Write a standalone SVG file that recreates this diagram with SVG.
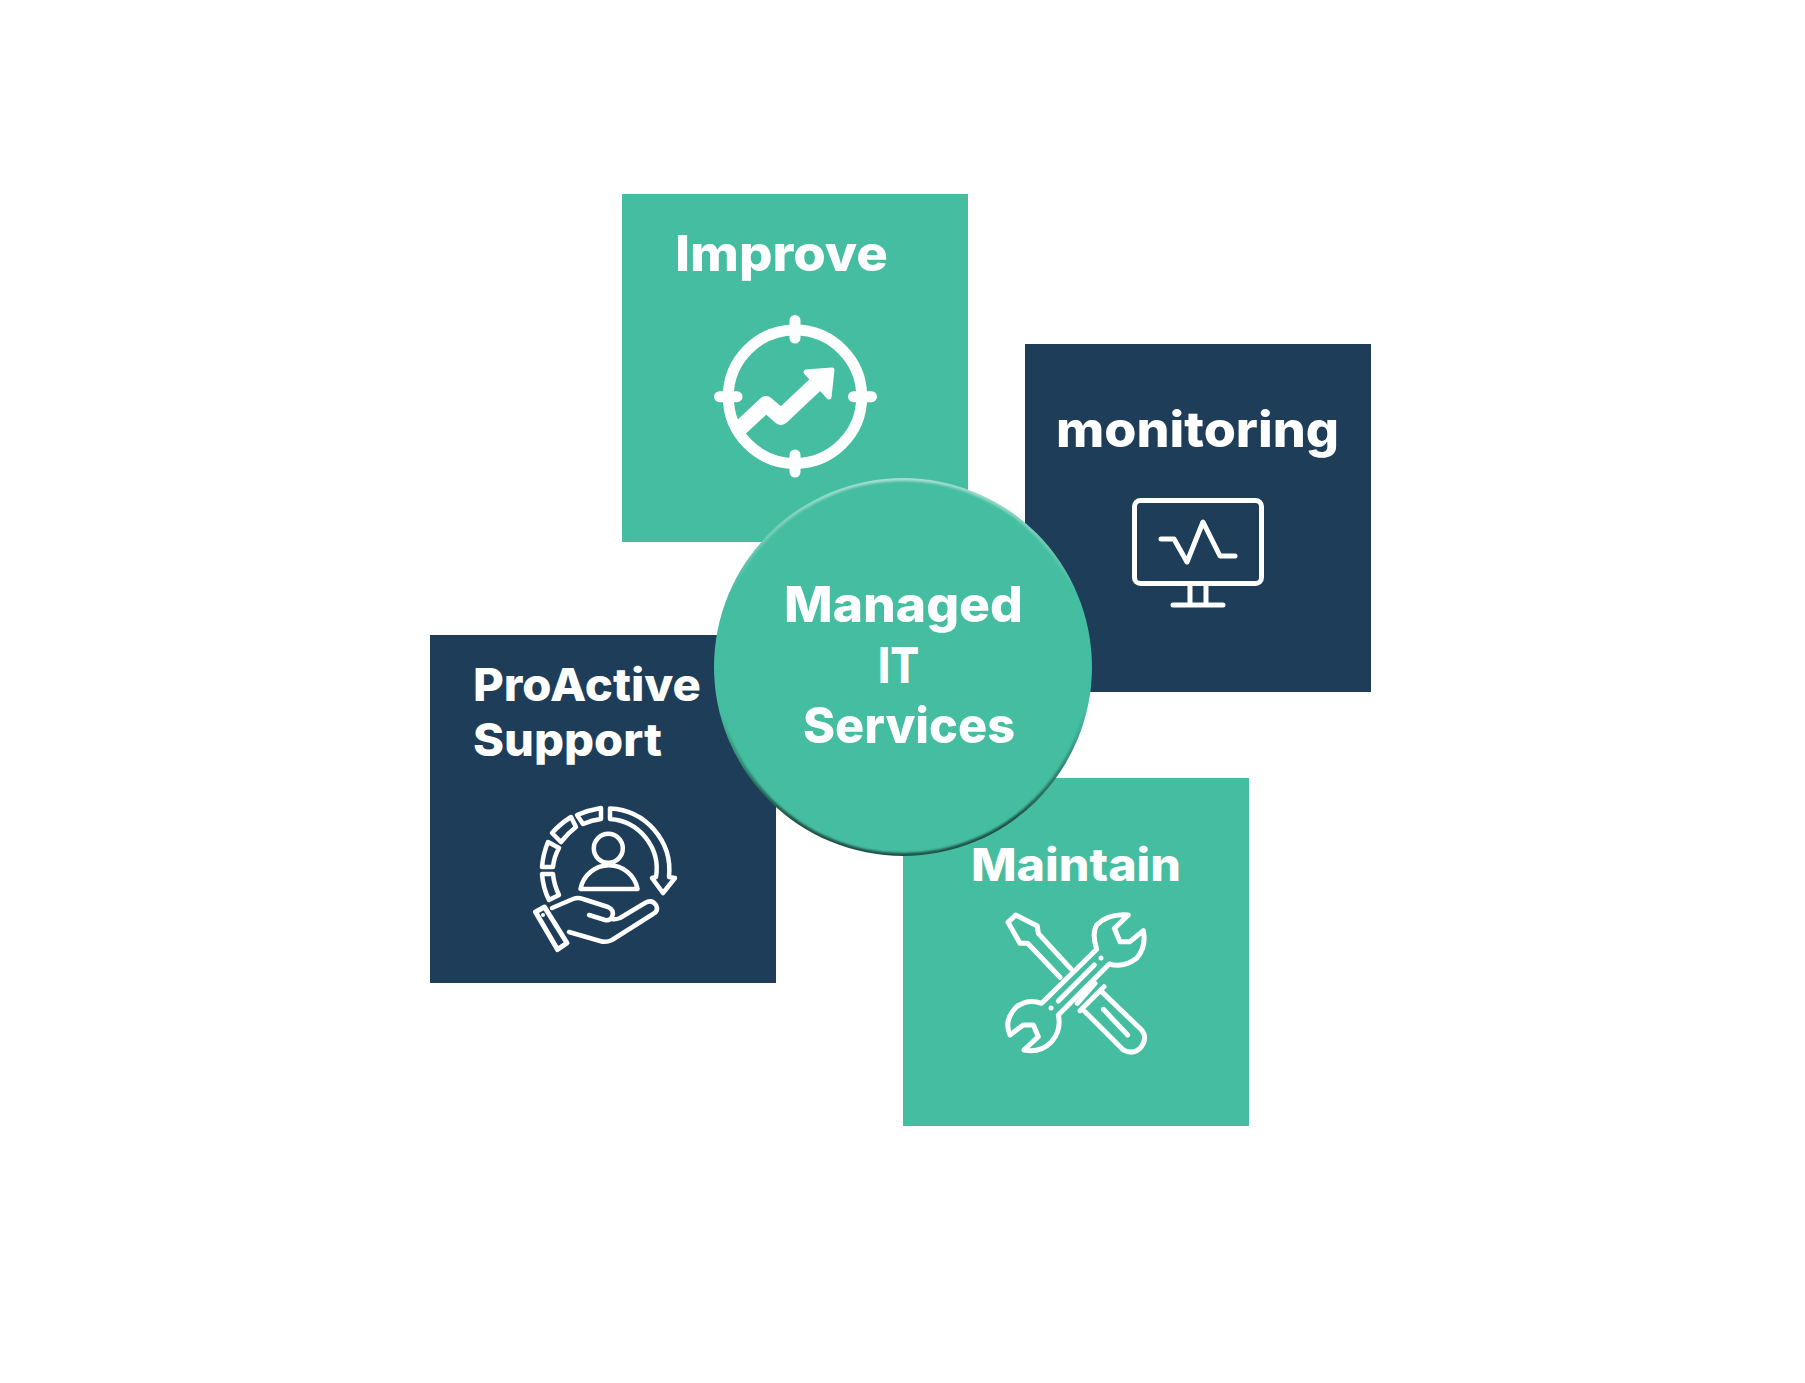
<svg xmlns="http://www.w3.org/2000/svg" width="1805" height="1383" viewBox="0 0 1805 1383">
<style>
.green{fill:#45BDA0}.navy{fill:#1D3D59}
.t{font-family:Inter,"Liberation Sans",sans-serif;font-weight:800;fill:#fff;font-size:48px}
.i{fill:none;stroke:#fff;stroke-width:5;stroke-linecap:round;stroke-linejoin:round}
</style>
<defs>
<linearGradient id="bev" x1="0" y1="0" x2="0" y2="1">
<stop offset="0" stop-color="#A6DFD0"/><stop offset=".3" stop-color="#45BDA0"/><stop offset=".62" stop-color="#45BDA0"/><stop offset=".9" stop-color="#1E5245"/><stop offset="1" stop-color="#1E5245"/>
</linearGradient>
<filter id="soft" x="-5%" y="-5%" width="110%" height="110%"><feGaussianBlur stdDeviation="1.3"/></filter>
</defs>
<rect width="1805" height="1383" fill="#fff"/>
<g id="improve">
<rect class="green" x="622" y="194" width="346" height="348"/>
<text class="t" style="font-size:49px" x="675" y="271" textLength="213" lengthAdjust="spacingAndGlyphs">Improve</text>
<circle class="i" cx="795" cy="396.7" r="66.7" style="stroke-width:11"/>
<path class="i" style="stroke-width:11" d="M795 320.500V338M795 455V472M719.500 396.700H737M853.500 396.700H871.500"/>
<path class="i" style="stroke-width:16;stroke-linecap:butt" d="M737 431L766 404L781 417L815 385"/>
<path d="M806 372L832 370L829 397Z" fill="#fff" stroke="#fff" stroke-width="5" stroke-linejoin="round"/>
</g>
<g id="monitoring">
<rect class="navy" x="1025" y="344" width="346" height="348"/>
<text class="t" style="font-size:49px" x="1056" y="447" textLength="283" lengthAdjust="spacingAndGlyphs">monitoring</text>
<rect class="i" x="1134.500" y="500.500" width="127" height="83" rx="6"/>
<path class="i" d="M1190 586V604M1206 586V604M1173 605H1223M1161 539H1174L1187 562L1203 522L1220 556H1235"/>
</g>
<g id="proactive">
<rect class="navy" x="430" y="635" width="346" height="348"/>
<text class="t" style="font-size:45px" x="473" y="701" textLength="228" lengthAdjust="spacingAndGlyphs">ProActive</text>
<text class="t" style="font-size:45px" x="473" y="756" textLength="189" lengthAdjust="spacingAndGlyphs">Support</text>
<g class="i" style="stroke-width:4.500">
<circle cx="608.300" cy="848.300" r="14.500"/>
<path d="M580.500 889H637.500A29 29 0 0 0 580.500 889Z"/>
<path d="M610 808.500A62 62 0 0 1 669 877L675 878L663 893L652 878L656 877A50 50 0 0 0 610 819Z"/>
<path d="M577 815Q589 810 601 808L601 819Q592 820 583 824Z"/>
<path d="M552 833Q560 824 571 817L576 827Q568 833 561 842Z"/>
<path d="M542 867Q543 854 548 842L559 848Q554 857 553 867Z"/>
<path d="M542 874H553Q554 885 559 895L549 900Q543 888 542 874Z"/>
<path style="stroke-width:5" d="M535.500 912L544.500 907L567 943L557.500 949.500Z"/>
<path d="M552 908L573 899Q578 897 583 899L608 907Q615 910 612 917Q610 921 605 920L589 915"/>
<path d="M612 919Q615 920 620 918L645 903Q652 899 656 905Q659 911 653 914L612 940Q606 943 600 941L569 932"/>
</g>
<circle cx="543" cy="915" r="2" fill="#fff"/>
</g>
<g id="maintain">
<rect class="green" x="903" y="778" width="346" height="348"/>
<text class="t" style="font-size:45px" x="971" y="881" textLength="210" lengthAdjust="spacingAndGlyphs">Maintain</text>
<g transform="translate(980 890) scale(.3333)" style="fill:none;stroke:#fff;stroke-width:15;stroke-linecap:round;stroke-linejoin:round">
<path d="M272 236L175 130L172 108L107 75L84 97L120 160H143L240 262"/>
<path d="M345 280L292 340M372 290L300 362M365 305L485 420Q505 445 480 475Q460 495 430 480L315 365M370 358L443 435"/>
<path d="M185 340L350 178Q335 130 350 105Q385 70 445 75L403 115L420 155H450L490 122Q500 170 470 205Q430 235 388 222L235 375Q245 420 215 455Q180 490 132 480L175 440L160 405H130L90 435Q70 390 110 350Q145 325 185 340Z"/>
<path d="M235 333L343 225"/>
</g>
<circle cx="1101" cy="958" r="2.500" fill="#fff"/>
<circle cx="1051" cy="1008" r="2.500" fill="#fff"/>
</g>
<g id="center">
<circle cx="903" cy="667" r="189" fill="url(#bev)"/>
<circle cx="903" cy="667" r="186" class="green" filter="url(#soft)"/>
<text class="t" style="font-size:49px" x="784" y="622" textLength="239" lengthAdjust="spacingAndGlyphs">Managed</text>
<text class="t" style="font-size:49px" x="878" y="683" textLength="41" lengthAdjust="spacingAndGlyphs">IT</text>
<text class="t" style="font-size:49px" x="803" y="743" textLength="212" lengthAdjust="spacingAndGlyphs">Services</text>
</g>
<g id="connectors"/>
</svg>
